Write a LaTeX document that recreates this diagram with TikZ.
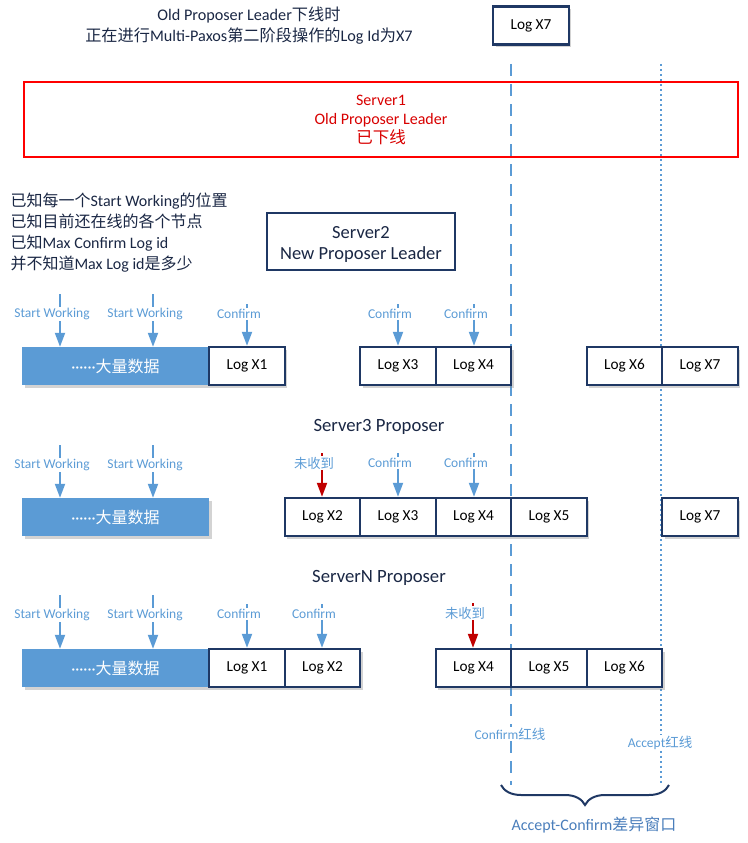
\documentclass[tikz,border=0pt]{standalone}
\usepackage{fontspec}
\setmainfont{Carlito}
\newfontfamily\zhfont{Noto Sans CJK SC}
\usetikzlibrary{arrows.meta,shadows,decorations.pathreplacing}
\definecolor{navy}{HTML}{1F3864}
\definecolor{lblue}{HTML}{5B9BD5}
\definecolor{wblue}{HTML}{4A7EBB}
\definecolor{dred}{HTML}{C00000}
\definecolor{offred}{HTML}{D80000}
\definecolor{ink}{HTML}{1A2744}
\tikzset{
  logbox/.style={draw=navy, line width=2.4pt, fill=white, minimum width=75.5pt, minimum height=38pt,
    inner sep=0pt, text=black, font=\fontsize{15.3}{18}\selectfont,
    drop shadow={opacity=0.35, shadow xshift=2.5pt, shadow yshift=-2.5pt}},
  databox/.style={fill=lblue, minimum width=187pt, minimum height=38pt, inner sep=0pt,
    text=white, font=\fontsize{16}{18}\selectfont\zhfont,
    drop shadow={opacity=0.35, shadow xshift=2.5pt, shadow yshift=-2.5pt}},
  tag/.style={text=lblue, font=\fontsize{13.5}{15}\selectfont, inner sep=1pt},
  feed/.style={draw=lblue, line width=2pt},
  feedarr/.style={feed, -{Triangle[length=14pt,width=10pt]}},
  miss/.style={draw=dred, line width=2pt},
  missarr/.style={miss, -{Triangle[length=14pt,width=10pt]}},
  confirmline/.style={draw=lblue, line width=2pt, dash pattern=on 12pt off 8pt},
  acceptline/.style={draw=lblue, line width=2pt, dash pattern=on 2pt off 3pt},
  rowname/.style={text=ink, font=\fontsize{18.7}{21}\selectfont},
}
\begin{document}
\begin{tikzpicture}[x=1pt,y=-1pt]
\useasboundingbox (0,0) rectangle (747,843);

% Confirm and Accept red lines
\node[tag] (cline) at (510,734) {Confirm{\zhfont 红线}};
\node[tag] (aline) at (660,743) {Accept{\zhfont 红线}};
\coordinate (ctop) at (511,64);
\coordinate (cend) at (511,785);
\coordinate (atop) at (661,64);
\coordinate (aend) at (661,785);
\draw[confirmline] (ctop) -- (ctop |- cline.north);
\draw[confirmline] (ctop |- cline.south) -- (cend);
\draw[acceptline] (atop) -- (atop |- aline.north);
\draw[acceptline] (atop |- aline.south) -- (aend);

% title and Server1
\node[align=center, text=ink, font=\fontsize{16.2}{21}\selectfont] (title) at (249,25.5)
  {Old Proposer Leader{\zhfont 下线时}\\{\zhfont 正在进行}Multi-Paxos{\zhfont 第二阶段操作的}Log Id{\zhfont 为}X7};
\node[logbox] (topx7) at (531,25.5) {Log X7};
\node[draw=red, line width=2pt, minimum width=714pt, minimum height=75pt, align=center,
  text=offred, font=\fontsize{16}{19}\selectfont] (s1) at (381,119.5)
  {Server1\\Old Proposer Leader\\{\zhfont\fontsize{16.5}{19}\selectfont 已下线}};

% Server2
\node[anchor=west, align=left, text=ink, font=\fontsize{16}{21}\selectfont] (known) at (7,233)
  {{\zhfont 已知每一个}Start Working{\zhfont 的位置}\\{\zhfont 已知目前还在线的各个节点}\\{\zhfont 已知}Max Confirm Log id\\{\zhfont 并不知道}Max Log id{\zhfont 是多少}};
\node[draw=navy, line width=2pt, fill=white, minimum width=188pt, minimum height=57pt] (s2) at (361,241.5) {};
\node[align=center, text=ink, font=\fontsize{18.5}{21}\selectfont] (s2txt) at (361,244) {Server2\\New Proposer Leader};

\node[databox] (s2data) at (115.5,366) {{\rmfamily ······}大量数据};
\node[logbox] (s2x1) at (247,366) {Log X1};
\node[logbox] (s2x3) at (398,366) {Log X3};
\node[logbox] (s2x4) at (473.5,366) {Log X4};
\node[logbox] (s2x6) at (624.5,366) {Log X6};
\node[logbox] (s2x7) at (700,366) {Log X7};
\node[tag] (s2sw1) at (52,314) {Start Working};
\node[tag] (s2sw2) at (145,314) {Start Working};
\node[tag] (s2c1) at (239,314) {Confirm};
\node[tag] (s2c3) at (390,314) {Confirm};
\node[tag] (s2c4) at (466,314) {Confirm};
\draw[feed] ([xshift=8pt]s2sw1.north) -- ++(0,-13);
\draw[feed] ([xshift=8pt]s2sw2.north) -- ++(0,-13);
\draw[feed] ([xshift=8pt]s2c1.north) -- ++(0,-4);
\draw[feed] ([xshift=8pt]s2c3.north) -- ++(0,-4);
\draw[feed] ([xshift=8pt]s2c4.north) -- ++(0,-4);
\draw[feedarr] ([xshift=8pt]s2sw1.south) -- ([xshift=8pt]s2sw1.south |- s2data.north);
\draw[feedarr] ([xshift=8pt]s2sw2.south) -- ([xshift=8pt]s2sw2.south |- s2data.north);
\draw[feedarr] ([xshift=8pt]s2c1.south) -- (s2x1.north);
\draw[feedarr] ([xshift=8pt]s2c3.south) -- (s2x3.north);
\draw[feedarr] ([xshift=8pt]s2c4.south) -- ([xshift=8pt]s2c4.south |- s2x4.north);

% Server3
\node[rowname] (s3) at (379,427) {Server3 Proposer};
\node[databox] (s3data) at (115.5,517) {{\rmfamily ······}大量数据};
\node[logbox] (s3x2) at (322.5,517) {Log X2};
\node[logbox] (s3x3) at (398,517) {Log X3};
\node[logbox] (s3x4) at (473.5,517) {Log X4};
\node[logbox] (s3x5) at (549,517) {Log X5};
\node[logbox] (s3x7) at (700,517) {Log X7};
\node[tag] (s3sw1) at (52,465) {Start Working};
\node[tag] (s3sw2) at (145,465) {Start Working};
\node[tag, font=\fontsize{13.3}{15}\selectfont\zhfont] (s3m2) at (314,463) {未收到};
\node[tag] (s3c3) at (390,463) {Confirm};
\node[tag] (s3c4) at (466,463) {Confirm};
\draw[feed] ([xshift=8pt]s3sw1.north) -- ++(0,-13);
\draw[feed] ([xshift=8pt]s3sw2.north) -- ++(0,-13);
\draw[miss] ([xshift=8pt]s3m2.north) -- ++(0,-3);
\draw[feed] ([xshift=8pt]s3c3.north) -- ++(0,-4);
\draw[feed] ([xshift=8pt]s3c4.north) -- ++(0,-4);
\draw[feedarr] ([xshift=8pt]s3sw1.south) -- ([xshift=8pt]s3sw1.south |- s3data.north);
\draw[feedarr] ([xshift=8pt]s3sw2.south) -- ([xshift=8pt]s3sw2.south |- s3data.north);
\draw[missarr] ([xshift=8pt]s3m2.south) -- ([xshift=8pt]s3m2.south |- s3x2.north);
\draw[feedarr] ([xshift=8pt]s3c3.south) -- (s3x3.north);
\draw[feedarr] ([xshift=8pt]s3c4.south) -- ([xshift=8pt]s3c4.south |- s3x4.north);

% ServerN
\node[rowname] (sn) at (379,578) {ServerN Proposer};
\node[databox] (sndata) at (115.5,668) {{\rmfamily ······}大量数据};
\node[logbox] (snx1) at (247,668) {Log X1};
\node[logbox] (snx2) at (322.5,668) {Log X2};
\node[logbox] (snx4) at (473.5,668) {Log X4};
\node[logbox] (snx5) at (549,668) {Log X5};
\node[logbox] (snx6) at (624.5,668) {Log X6};
\node[tag] (snsw1) at (52,615) {Start Working};
\node[tag] (snsw2) at (145,615) {Start Working};
\node[tag] (snc1) at (239,614) {Confirm};
\node[tag] (snc2) at (314,614) {Confirm};
\node[tag, font=\fontsize{13.3}{15}\selectfont\zhfont] (snm4) at (465,613) {未收到};
\draw[feed] ([xshift=8pt]snsw1.north) -- ++(0,-13);
\draw[feed] ([xshift=8pt]snsw2.north) -- ++(0,-13);
\draw[feed] ([xshift=8pt]snc1.north) -- ++(0,-4);
\draw[feed] ([xshift=8pt]snc2.north) -- ++(0,-4);
\draw[miss] ([xshift=8pt]snm4.north) -- ++(0,-3);
\draw[feedarr] ([xshift=8pt]snsw1.south) -- ([xshift=8pt]snsw1.south |- sndata.north);
\draw[feedarr] ([xshift=8pt]snsw2.south) -- ([xshift=8pt]snsw2.south |- sndata.north);
\draw[feedarr] ([xshift=8pt]snc1.south) -- (snx1.north);
\draw[feedarr] ([xshift=8pt]snc2.south) -- ([xshift=8pt]snc2.south |- snx2.north);
\draw[missarr] ([xshift=8pt]snm4.south) -- ([xshift=8pt]snm4.south |- snx4.north);

% window
\coordinate (bl) at (501,785);
\coordinate (br) at (669,785);
\draw[navy, line width=2pt, decorate, decoration={brace, mirror, amplitude=20pt}] (bl) -- (br);
\node[text=wblue, font=\fontsize{16}{18}\selectfont] (window) at (594,825) {Accept-Confirm{\zhfont 差异窗口}};
\end{tikzpicture}
\end{document}
